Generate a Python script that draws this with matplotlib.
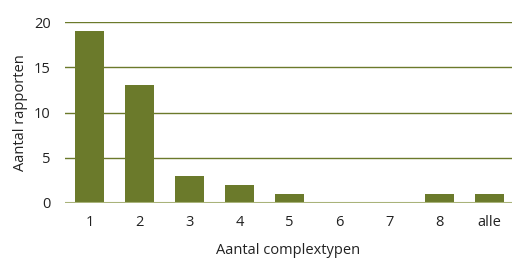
import matplotlib.pyplot as plt

# data
categories = ['1', '2', '3', '4', '5', '6', '7', '8', 'alle']
counts = [19, 13, 3, 2, 1, 0, 0, 1, 1]
yticks = [0, 5, 10, 15, 20]

bar_color = '#6b7a2b'
grid_color = '#6b7a2b'
base_color = '#a9b37a'

plt.rcParams['font.family'] = ['Open Sans', 'DejaVu Sans']

fig = plt.figure(figsize=(5.12, 2.58), dpi=100)
ax = fig.add_axes([64.5 / 512, 1 - 203 / 258, (512 - 64.5) / 512, 181 / 258])

x = list(range(len(categories)))
ax.bar(x, counts, width=0.58, color=bar_color, zorder=3)

ax.set_xlim(-0.5, 8.45)
ax.set_ylim(0, 20)
ax.set_yticks(yticks)
ax.set_xticks(x)
ax.set_xticklabels(categories)

for v in yticks[1:]:
    ax.axhline(v, color=grid_color, lw=1.0, zorder=1)
ax.axhline(0, color=base_color, lw=1.5, zorder=4)

for s in ax.spines.values():
    s.set_visible(False)
ax.tick_params(axis='both', length=0, labelsize=10.5, colors='#222222')
ax.tick_params(axis='x', pad=9)
ax.tick_params(axis='y', pad=10)

ax.set_ylabel('Aantal rapporten', fontsize=10.5, color='#222222', labelpad=4)
ax.set_xlabel('Aantal complextypen', fontsize=10.5, color='#222222', labelpad=9)

fig.savefig('out.png', dpi=100, facecolor='white')
